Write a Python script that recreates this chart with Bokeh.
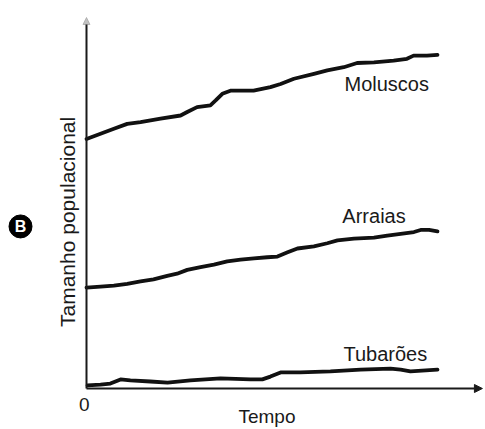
import math
from bokeh.plotting import figure
from bokeh.models import Range1d, Label, Arrow, NormalHead
from bokeh.embed import file_html
from bokeh.resources import INLINE

# --- data (time in arbitrary units, population size in arbitrary units) ---
mol_t = [0, 4.0, 7.8, 11.6, 15.4, 21.1, 26.8, 28.7, 31.5, 35.3, 36.8, 38.7, 41.0, 47.6, 52.4,
         55.3, 59.1, 64.8, 68.6, 73.3, 77.1, 81.9, 87.5, 91.3, 93.2, 97.0, 100]
mol_p = [71.3, 72.8, 74.2, 75.6, 76.1, 77.1, 78.0, 79.0, 80.4, 80.9, 82.3, 84.2, 85.1, 85.1, 86.1,
         87.0, 88.5, 89.9, 90.9, 91.8, 93.0, 93.2, 93.7, 94.2, 95.1, 95.1, 95.3]

arr_t = [0, 4.0, 7.8, 11.6, 15.4, 19.1, 23.0, 25.8, 28.7, 32.5, 36.3, 40.1, 43.9, 47.7, 51.5,
         54.4, 57.3, 60.1, 64.8, 68.6, 71.5, 76.2, 81.9, 85.7, 89.5, 93.3, 95.2, 97.6, 100]
arr_p = [28.8, 29.1, 29.4, 29.9, 30.6, 31.2, 32.2, 32.8, 33.9, 34.7, 35.4, 36.3, 36.8, 37.2, 37.5,
         37.7, 38.9, 40.0, 40.6, 41.5, 42.3, 42.8, 43.1, 43.7, 44.2, 44.7, 45.3, 45.3, 44.9]

tub_t = [0.3, 4.0, 6.8, 9.7, 12.5, 18.2, 23.1, 29.6, 38.2, 46.7, 50.1, 52.4, 55.3, 60.9, 69.5,
         78.1, 86.6, 89.5, 92.3, 100]
tub_p = [0.9, 1.1, 1.4, 2.6, 2.3, 2.0, 1.7, 2.3, 2.9, 2.6, 2.6, 3.4, 4.6, 4.6, 4.9,
         5.4, 5.7, 5.4, 4.9, 5.4]

series_names = ["Moluscos", "Arraias", "Tubarões"]
name_pos_t = [73.5, 72.9, 73.2]
name_pos_p = [86.9, 49.4, 10.0]

x_label = "Tempo"
y_label = "Tamanho populacional"
x_tick_label = "0"
panel_letter = "B"

FONT = "Liberation Sans"
INK = "#1a1a1a"

p = figure(width=485, height=429, output_backend="svg", toolbar_location=None,
           x_range=Range1d(-24.5, 113.68), y_range=Range1d(-11.714, 110.857),
           x_axis_location=None, y_axis_location=None,
           min_border=0, min_border_left=0, min_border_right=0,
           min_border_top=0, min_border_bottom=0)
p.outline_line_color = None
p.grid.visible = False
p.background_fill_color = "white"
p.border_fill_color = "white"

# hand-drawn style axes with arrow heads
p.add_layout(Arrow(x_start=0, y_start=0, x_end=112.8, y_end=0, line_color=INK, line_width=2,
                   end=NormalHead(size=8, fill_color=INK, line_color=INK)))
p.add_layout(Arrow(x_start=0, y_start=0, x_end=0, y_end=106, line_color=INK, line_width=2,
                   end=NormalHead(size=7, fill_color="#999999", line_color="#999999",
                                  fill_alpha=0.6, line_alpha=0.6)))

# series lines
for t, v in [(mol_t, mol_p), (arr_t, arr_p), (tub_t, tub_p)]:
    p.line(t, v, line_color="#111111", line_width=3.8, line_join="round", line_cap="round")

for name, tx, ty in zip(series_names, name_pos_t, name_pos_p):
    p.add_layout(Label(x=tx, y=ty, text=name, text_font=FONT, text_font_size="20px",
                       text_color=INK, text_align="left", text_baseline="alphabetic"))

p.add_layout(Label(x=-0.6, y=-4.6, text=x_tick_label, text_font=FONT, text_font_size="19px",
                   text_color=INK, text_align="center", text_baseline="alphabetic"))
p.add_layout(Label(x=43.3, y=-8.0, text=x_label, text_font=FONT, text_font_size="19px",
                   text_color=INK, text_align="left", text_baseline="alphabetic"))
p.add_layout(Label(x=-5.4, y=47.6, text=y_label, angle=math.pi / 2, text_font=FONT,
                   text_font_size="21px", text_color=INK, text_align="center",
                   text_baseline="alphabetic"))

# panel badge: black disc with white bold letter
p.scatter([-18.8], [46.3], marker="circle", size=23, fill_color="black", line_color="black")
p.add_layout(Label(x=-18.8, y=46.3, text=panel_letter, text_font=FONT, text_font_size="16px",
                   text_font_style="bold", text_color="white", text_align="center",
                   text_baseline="middle"))

open("out.html", "w").write(file_html(p, INLINE))
